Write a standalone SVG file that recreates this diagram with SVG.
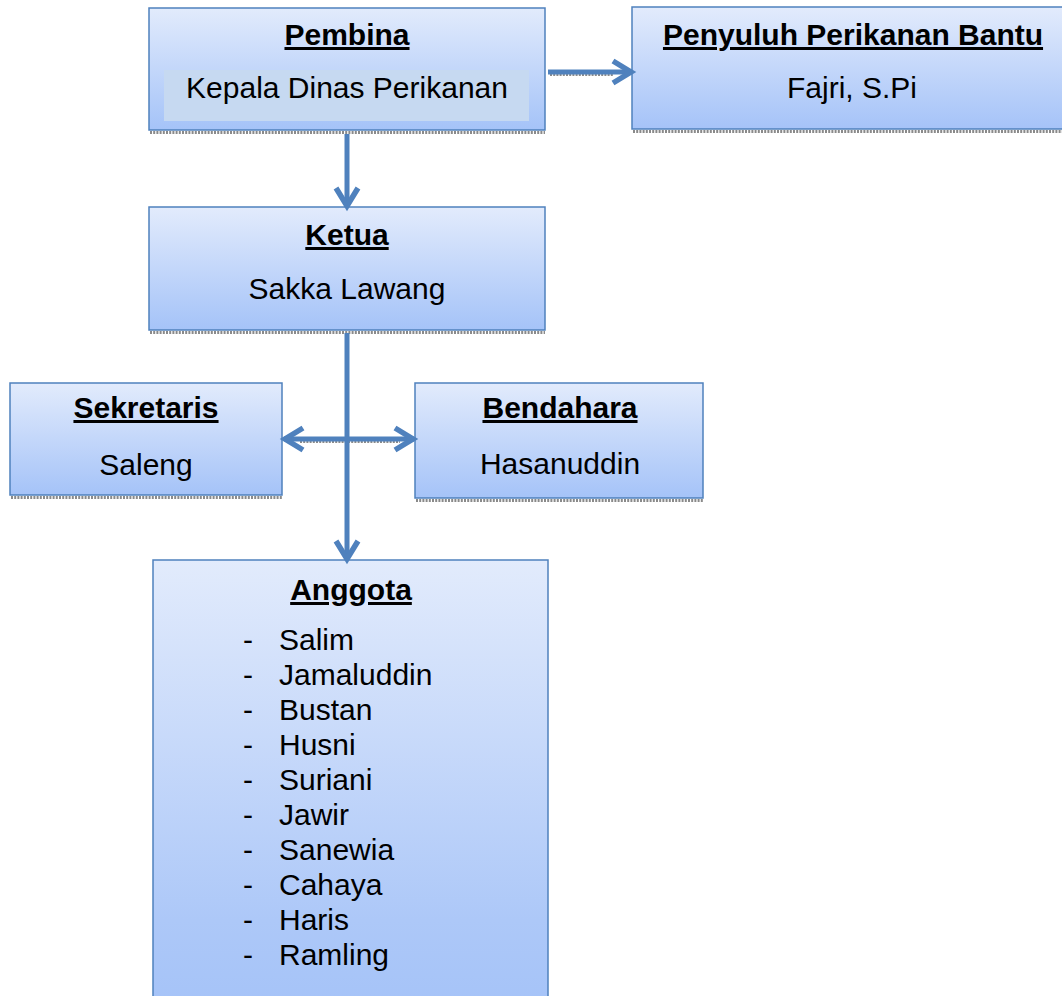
<svg xmlns="http://www.w3.org/2000/svg" width="1062" height="996" viewBox="0 0 1062 996">
<defs>
<linearGradient id="g" x1="0" y1="0" x2="0" y2="1">
<stop offset="0" stop-color="#e2ebfc"/>
<stop offset="1" stop-color="#a5c3f8"/>
</linearGradient>
<linearGradient id="g2" x1="0" y1="0" x2="0" y2="1">
<stop offset="0" stop-color="#e2ebfc"/>
<stop offset="0.8" stop-color="#adc8f8"/>
<stop offset="1" stop-color="#a5c3f8"/>
</linearGradient>
<marker id="ah" markerUnits="userSpaceOnUse" markerWidth="40" markerHeight="40" viewBox="-30 -20 40 40" refX="0" refY="0" orient="auto-start-reverse">
<path d="M-19,-11 L-1,0 L-19,11" fill="none" stroke="#4f81bd" stroke-width="5.5" stroke-linejoin="miter"/>
</marker>
</defs>
<style>
.box{fill:url(#g);stroke:#4f81bd;stroke-width:1.5}
.sh{stroke:#8a8a8a;stroke-width:3;stroke-dasharray:2 1.2}
.t{font-family:"Liberation Sans",Arial,sans-serif;font-size:30px;fill:#000;text-anchor:middle}
.h{font-weight:bold;text-decoration:underline}
.l{font-family:"Liberation Sans",Arial,sans-serif;font-size:30px;fill:#000}
.c{stroke:#4f81bd;stroke-width:5;fill:none}
</style>
<rect width="1062" height="996" fill="#fff"/>

<g id="pembina">
<line class="sh" x1="150" y1="132.5" x2="545" y2="132.5"/>
<rect class="box" x="149" y="8" width="396" height="122"/>
<rect x="164" y="70" width="365" height="51" fill="#c6d9f1"/>
<text class="t h" x="347" y="45">Pembina</text>
<text class="t" x="347" y="98">Kepala Dinas Perikanan</text>
</g>

<g id="penyuluh">
<line class="sh" x1="633" y1="131.5" x2="1062" y2="131.5"/>
<rect class="box" x="632" y="7" width="442" height="122"/>
<text class="t h" x="853" y="45">Penyuluh Perikanan Bantu</text>
<text class="t" x="852" y="98">Fajri, S.Pi</text>
</g>

<g id="ketua">
<line class="sh" x1="150" y1="332.5" x2="545" y2="332.5"/>
<rect class="box" x="149" y="207" width="396" height="123"/>
<text class="t h" x="347" y="245">Ketua</text>
<text class="t" x="347" y="299">Sakka Lawang</text>
</g>

<g id="sekretaris">
<line class="sh" x1="11" y1="497.5" x2="282" y2="497.5"/>
<rect class="box" x="10" y="383" width="272" height="112"/>
<text class="t h" x="146" y="418">Sekretaris</text>
<text class="t" x="146" y="475">Saleng</text>
</g>

<g id="bendahara">
<line class="sh" x1="416" y1="500.5" x2="703" y2="500.5"/>
<rect class="box" x="415" y="383" width="288" height="115"/>
<text class="t h" x="560" y="418">Bendahara</text>
<text class="t" x="560" y="474">Hasanuddin</text>
</g>

<g id="anggota">
<rect x="153" y="560" width="395" height="450" fill="url(#g2)" stroke="#4f81bd" stroke-width="1.5"/>
<text class="t h" x="351" y="600">Anggota</text>
<g class="l">
<text x="243" y="650">-</text><text x="279" y="650">Salim</text>
<text x="243" y="685">-</text><text x="279" y="685">Jamaluddin</text>
<text x="243" y="720">-</text><text x="279" y="720">Bustan</text>
<text x="243" y="755">-</text><text x="279" y="755">Husni</text>
<text x="243" y="790">-</text><text x="279" y="790">Suriani</text>
<text x="243" y="825">-</text><text x="279" y="825">Jawir</text>
<text x="243" y="860">-</text><text x="279" y="860">Sanewia</text>
<text x="243" y="895">-</text><text x="279" y="895">Cahaya</text>
<text x="243" y="930">-</text><text x="279" y="930">Haris</text>
<text x="243" y="965">-</text><text x="279" y="965">Ramling</text>
</g>
</g>

<g id="connectors">
<line class="sh" x1="550" y1="75" x2="614" y2="75" style="stroke-width:2"/>
<line class="sh" x1="300" y1="442" x2="400" y2="442" style="stroke-width:2"/>
<line class="c" x1="347" y1="134" x2="347" y2="207" marker-end="url(#ah)"/>
<line class="c" x1="548" y1="72" x2="632" y2="72" marker-end="url(#ah)"/>
<line class="c" x1="347" y1="333" x2="347" y2="560" marker-end="url(#ah)"/>
<line class="c" x1="284" y1="439" x2="414" y2="439" marker-start="url(#ah)" marker-end="url(#ah)"/>
</g>
</svg>
